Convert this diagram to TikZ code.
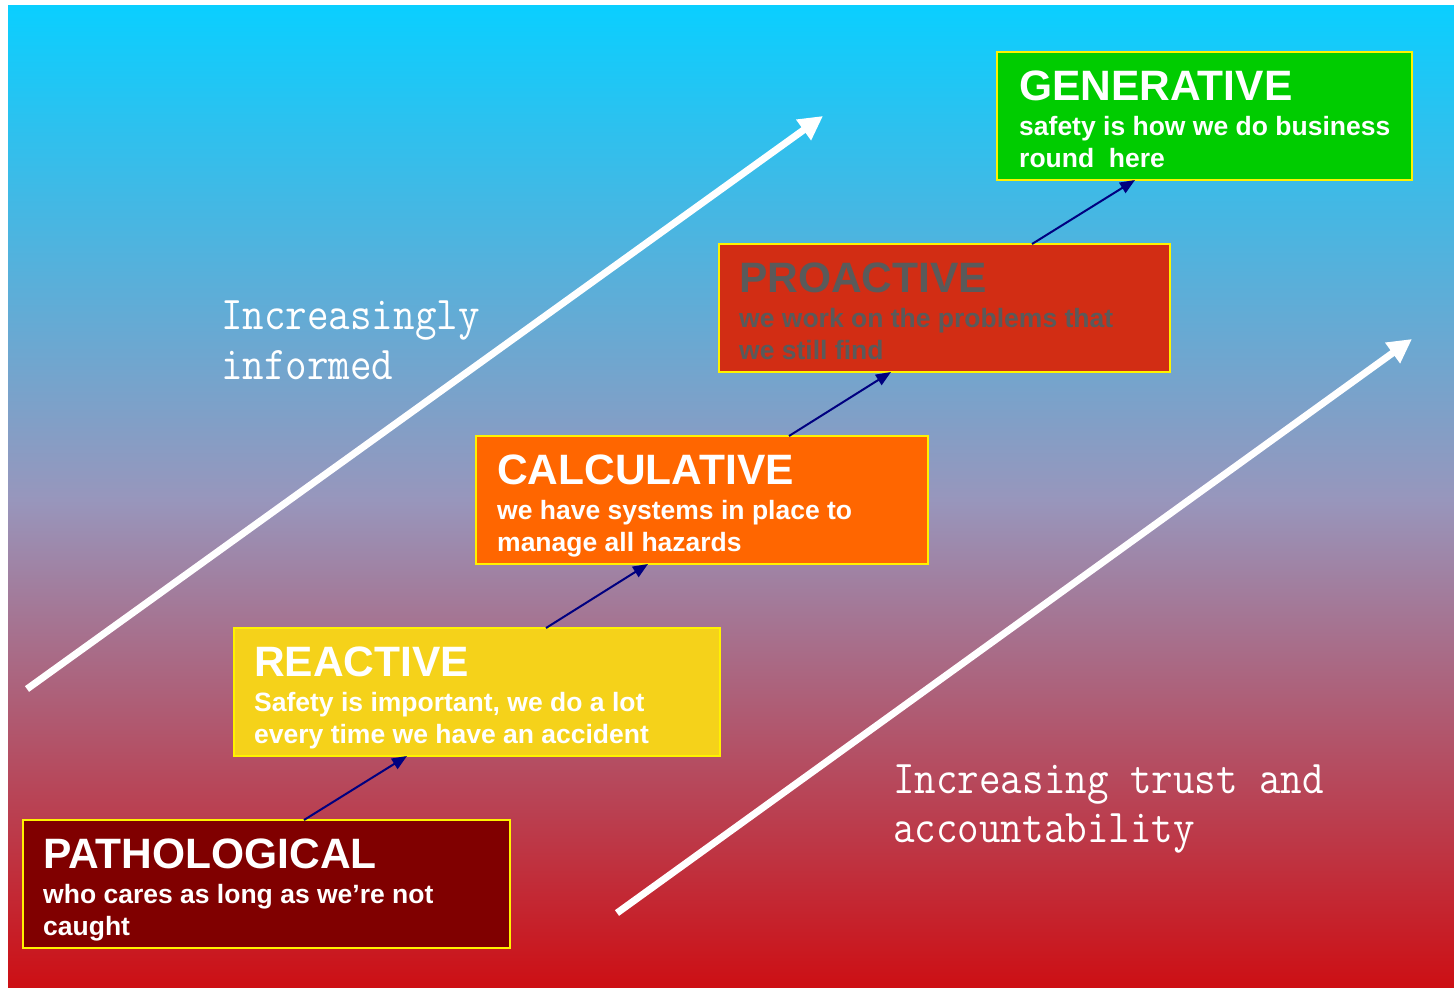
\documentclass[tikz,border=0pt]{standalone}
\usepackage{fontspec}
\setmainfont{Liberation Sans}
\newfontfamily\labfont[FakeStretch=0.89]{Latin Modern Mono}
\usetikzlibrary{arrows.meta}
\definecolor{bgtop}{RGB}{10,207,255}
\definecolor{bgmid}{RGB}{152,150,188}
\definecolor{bgbot}{RGB}{205,15,20}
\definecolor{pathred}{RGB}{128,0,0}
\definecolor{reactyel}{RGB}{245,210,26}
\definecolor{calcorange}{RGB}{255,102,0}
\definecolor{prored}{RGB}{210,45,20}
\definecolor{gengreen}{RGB}{0,204,0}
\definecolor{progray}{RGB}{90,90,90}
\definecolor{navy}{RGB}{0,0,128}
\tikzset{
  stagebox/.style={draw=yellow, line width=2pt, rectangle, inner sep=0pt, outer sep=0pt,
    minimum height=128pt, anchor=north west},
  stagetitle/.style={anchor=base west, inner sep=0pt, font=\fontsize{42.5}{48}\selectfont\bfseries},
  stagesub/.style={anchor=base west, inner sep=0pt, font=\fontsize{26.5}{32}\selectfont\bfseries},
  conn/.style={draw=navy, line width=2pt, -{Triangle[length=15pt,width=12pt]}},
  bigarrow/.style={draw=white, line width=7pt, -{Triangle[length=24pt,width=24pt]}},
  trendlabel/.style={anchor=base west, inner sep=0pt, text=white, font=\labfont\fontsize{47}{50}\selectfont}
}
\begin{document}
\begin{tikzpicture}[x=1pt,y=-1pt]
\useasboundingbox (0,0) rectangle (1454,988);
\fill[white] (0,0) rectangle (1454,988);
\shade[top color=bgtop, bottom color=bgmid] (8,5) rectangle (1454,500.5);
\shade[top color=bgmid, bottom color=bgbot] (8,500) rectangle (1454,988);

% big white arrows
\coordinate (la0) at (27,689);
\coordinate (la1) at (823,116);
\coordinate (ra0) at (617,913);
\coordinate (ra1) at (1412,339);
\draw[bigarrow] (la0) -- (la1);
\draw[bigarrow] (ra0) -- (ra1);

% trend labels
\node[trendlabel] (inf1) at (221,329) {Increasingly};
\node[trendlabel] (inf2) at (221,379) {informed};
\node[trendlabel] (tr1) at (893,793) {Increasing trust and};
\node[trendlabel] (tr2) at (893,842) {accountability};

% stage boxes
\node[stagebox, fill=pathred, minimum width=487pt] (path) at (23,820) {};
\node[stagebox, fill=reactyel, minimum width=486pt] (react) at (234,628) {};
\node[stagebox, fill=calcorange, minimum width=452pt] (calc) at (476,436) {};
\node[stagebox, fill=prored, minimum width=451pt] (pro) at (719,244) {};
\node[stagebox, fill=gengreen, minimum width=415pt] (gen) at (997,52) {};

% texts
\node[stagetitle, text=white] (pathT) at ([shift={(20,48)}]path.north west) {PATHOLOGICAL};
\node[stagesub, text=white] (pathS1) at ([shift={(20,83)}]path.north west) {who cares as long as we’re not};
\node[stagesub, text=white] (pathS2) at ([shift={(20,115)}]path.north west) {caught};

\node[stagetitle, text=white] (reactT) at ([shift={(20,48)}]react.north west) {REACTIVE};
\node[stagesub, text=white] (reactS1) at ([shift={(20,83)}]react.north west) {Safety is important, we do a lot};
\node[stagesub, text=white] (reactS2) at ([shift={(20,115)}]react.north west) {every time we have an accident};

\node[stagetitle, text=white] (calcT) at ([shift={(21,48)}]calc.north west) {CALCULATIVE};
\node[stagesub, text=white] (calcS1) at ([shift={(21,83)}]calc.north west) {we have systems in place to};
\node[stagesub, text=white] (calcS2) at ([shift={(21,115)}]calc.north west) {manage all hazards};

\node[stagetitle, text=progray] (proT) at ([shift={(20,48)}]pro.north west) {PROACTIVE};
\node[stagesub, text=progray] (proS1) at ([shift={(20,83)}]pro.north west) {we work on the problems that};
\node[stagesub, text=progray] (proS2) at ([shift={(20,115)}]pro.north west) {we still find};

\node[stagetitle, text=white] (genT) at ([shift={(22,48)}]gen.north west) {GENERATIVE};
\node[stagesub, text=white] (genS1) at ([shift={(22,83)}]gen.north west) {safety is how we do business};
\node[stagesub, text=white] (genS2) at ([shift={(22,115)}]gen.north west) {round\ \ here};

% connectors
\draw[conn] ([xshift=281pt]path.north west) -- ([xshift=173pt]react.south west);
\draw[conn] ([xshift=312pt]react.north west) -- ([xshift=172pt]calc.south west);
\draw[conn] ([xshift=313pt]calc.north west) -- ([xshift=172pt]pro.south west);
\draw[conn] ([xshift=313pt]pro.north west) -- ([xshift=138pt]gen.south west);
\end{tikzpicture}
\end{document}
